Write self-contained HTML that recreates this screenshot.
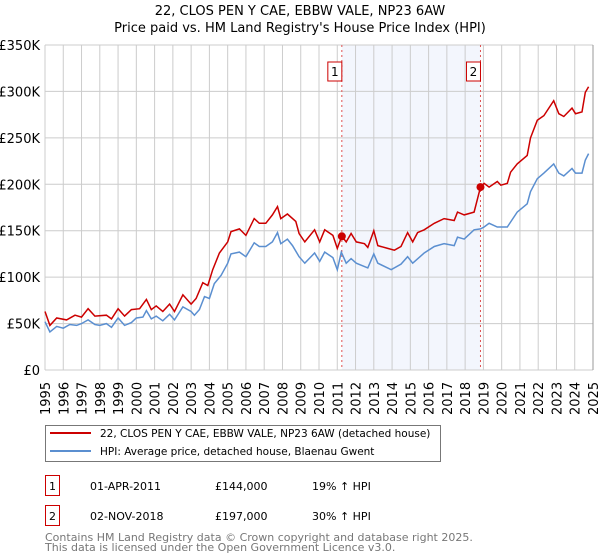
<!DOCTYPE html>
<html><head><meta charset="utf-8"><style>
body{margin:0;background:#fff;font-family:"DejaVu Sans","Liberation Sans",sans-serif;}
</style></head><body>
<svg width="600" height="560" viewBox="0 0 600 560" style="display:block">
<g id="plot"></g>
</svg>
<script>
const yearsRed=[1995.0,1995.27,1995.64,1996.18,1996.64,1997.0,1997.36,1997.73,1998.36,1998.64,1999.0,1999.36,1999.73,2000.18,2000.55,2000.82,2001.09,2001.45,2001.82,2002.09,2002.55,2003.0,2003.27,2003.64,2003.91,2004.18,2004.55,2005.0,2005.18,2005.64,2006.0,2006.45,2006.73,2007.09,2007.45,2007.73,2007.91,2008.27,2008.73,2008.91,2009.22,2009.76,2010.04,2010.31,2010.76,2011.0,2011.25,2011.49,2011.76,2012.04,2012.49,2012.67,2013.0,2013.22,2013.76,2014.13,2014.49,2014.85,2015.13,2015.4,2015.76,2016.31,2016.85,2017.4,2017.58,2017.95,2018.49,2018.84,2019.04,2019.31,2019.76,2019.95,2020.31,2020.49,2020.85,2021.4,2021.58,2021.95,2022.31,2022.85,2023.13,2023.4,2023.85,2024.04,2024.4,2024.58,2024.76];
const valuesRed=[63,48,56,54,59,57,66,58,59,55,66,58,65,66,76,65,69,63,71,63,81,71,77,94,91,108,126,138,149,152,145,163,158,158,167,176,163,168,160,147,138,151,138,151,145,131,144,138,147,138,136,132,150,134,131,129,133,148,138,148,151,158,163,161,170,167,170,197,201,197,203,199,201,213,222,231,250,269,274,290,276,273,282,276,278,299,305];
const yearsHpi=[1995.0,1995.27,1995.64,1996.0,1996.36,1996.73,1997.0,1997.36,1997.73,1998.0,1998.36,1998.64,1999.0,1999.36,1999.73,2000.0,2000.36,2000.55,2000.82,2001.09,2001.45,2001.82,2002.09,2002.55,2003.0,2003.18,2003.45,2003.73,2004.0,2004.27,2004.64,2005.0,2005.18,2005.64,2006.0,2006.45,2006.73,2007.09,2007.45,2007.73,2007.91,2008.27,2008.55,2008.91,2009.22,2009.76,2010.04,2010.31,2010.76,2011.0,2011.22,2011.49,2011.76,2012.04,2012.67,2013.0,2013.22,2013.95,2014.49,2014.85,2015.13,2015.76,2016.31,2016.85,2017.4,2017.58,2017.95,2018.49,2018.84,2019.04,2019.31,2019.76,2020.31,2020.85,2021.4,2021.58,2021.95,2022.31,2022.85,2023.13,2023.4,2023.85,2024.04,2024.4,2024.58,2024.76];
const valuesHpi=[52,41,47,45,49,48,50,54,49,48,50,46,56,48,51,56,57,64,55,58,53,60,54,68,63,59,65,79,77,93,102,115,125,127,122,137,133,133,138,148,136,141,134,122,115,126,117,127,121,108,127,115,120,115,110,125,115,108,114,122,115,126,133,136,134,143,141,151,152,154,158,154,154,170,179,192,206,212,222,212,209,217,212,212,226,233];
const saleYears=[2011.25,2018.84];
const saleValues=[144,197];
const saleLabels=["1","2"];
const yTicks=[0,50,100,150,200,250,300,350];
const yTickLabels=["£0","£50K","£100K","£150K","£200K","£250K","£300K","£350K"];
const xTicks=[1995,1996,1997,1998,1999,2000,2001,2002,2003,2004,2005,2006,2007,2008,2009,2010,2011,2012,2013,2014,2015,2016,2017,2018,2019,2020,2021,2022,2023,2024,2025];

const X0=45,X1=593,Y0=370,Y1=45;
const xs=y=>X0+(y-1995)/30*(X1-X0);
const ys=v=>Y0-v/350*(Y0-Y1);
const NS="http://www.w3.org/2000/svg";
const svg=document.querySelector('svg');
function mk(tag,attrs,parent,name,inter){const e=document.createElementNS(NS,tag);for(const k in attrs)e.setAttribute(k,attrs[k]);(parent||svg).appendChild(e);


return e;}
function txt(s,attrs,name){const t=mk('text',attrs,svg,name,false);t.textContent=s;return t;}

txt("22, CLOS PEN Y CAE, EBBW VALE, NP23 6AW",{x:300,y:15,'text-anchor':'middle','font-size':13},'chart-title');
txt("Price paid vs. HM Land Registry's House Price Index (HPI)",{x:300,y:32,'text-anchor':'middle','font-size':13},'chart-subtitle');

mk('rect',{x:xs(saleYears[0]),y:Y1,width:xs(saleYears[1])-xs(saleYears[0]),height:Y0-Y1,fill:'#f3f6fd'},svg,'shaded-period',false);
xTicks.forEach(t=>{mk('line',{x1:xs(t),x2:xs(t),y1:Y1,y2:Y0,stroke:'#cccccc','stroke-width':1},svg,'x-gridline',false);});
yTicks.forEach((t,i)=>{mk('line',{x1:X0,x2:X1,y1:ys(t),y2:ys(t),stroke:'#cccccc','stroke-width':1},svg,'y-gridline',false);
txt(yTickLabels[i],{x:40,y:ys(t)+5,'text-anchor':'end','font-size':13},'y-tick-label');});
xTicks.forEach(t=>{txt(String(t),{transform:`translate(${xs(t)+5},${Y0+45}) rotate(-90)`,'font-size':13},'x-tick-label');});
mk('line',{x1:X1,x2:X1,y1:Y1,y2:Y0,stroke:'#999','stroke-width':1},svg,'right-edge',false);

saleYears.forEach((s,i)=>{const x=xs(s);
mk('line',{x1:x,x2:x,y1:Y1,y2:Y0,stroke:'#e05050','stroke-width':1,'stroke-dasharray':'2,3'},svg,'sale-marker-line',false);
mk('rect',{x:x-14,y:62,width:14,height:19,fill:'#fff',stroke:'#cc0000'},svg,'sale-marker-box',false);
txt(saleLabels[i],{x:x-7,y:76,'text-anchor':'middle','font-size':12},'sale-marker-label');});

const pts=(xa,va)=>xa.map((y,i)=>xs(y).toFixed(1)+','+ys(va[i]).toFixed(1)).join(' ');
mk('polyline',{points:pts(yearsHpi,valuesHpi),fill:'none',stroke:'#5b8fd0','stroke-width':1.5},svg,'hpi-line',false);
mk('polyline',{points:pts(yearsRed,valuesRed),fill:'none',stroke:'#cc0000','stroke-width':1.5},svg,'price-line',false);
saleYears.forEach((s,i)=>{mk('circle',{cx:xs(s),cy:ys(saleValues[i]),r:4,fill:'#cc0000'},svg,'sale-point',true);});

mk('rect',{x:45.5,y:425.5,width:395,height:36,fill:'#fff',stroke:'#777'},svg,'legend',false);
mk('line',{x1:50,x2:91,y1:433,y2:433,stroke:'#cc0000','stroke-width':2},svg,'legend-price-swatch',false);
txt("22, CLOS PEN Y CAE, EBBW VALE, NP23 6AW (detached house)",{x:100,y:437,'font-size':10.5},'legend-price-label');
mk('line',{x1:50,x2:91,y1:451,y2:451,stroke:'#5b8fd0','stroke-width':2},svg,'legend-hpi-swatch',false);
txt("HPI: Average price, detached house, Blaenau Gwent",{x:100,y:455,'font-size':10.5},'legend-hpi-label');

const rows=[["1","01-APR-2011","£144,000","19% ↑ HPI"],["2","02-NOV-2018","£197,000","30% ↑ HPI"]];
rows.forEach((r,i)=>{const y=475+i*30;
mk('rect',{x:45.5,y:y+0.5,width:14,height:20,fill:'#fff',stroke:'#cc0000'},svg,'table-marker-box',false);
txt(r[0],{x:52.5,y:y+15,'text-anchor':'middle','font-size':11},'table-marker-label');
txt(r[1],{x:90,y:y+15,'font-size':11},'table-date');
txt(r[2],{x:215,y:y+15,'font-size':11},'table-price');
txt(r[3],{x:312,y:y+15,'font-size':11},'table-hpi-change');});
txt("Contains HM Land Registry data © Crown copyright and database right 2025.",{x:45,y:541,'font-size':11,fill:'#777'},'footer-copyright');
txt("This data is licensed under the Open Government Licence v3.0.",{x:45,y:551,'font-size':11,fill:'#777'},'footer-licence');
</script>
</body></html>
